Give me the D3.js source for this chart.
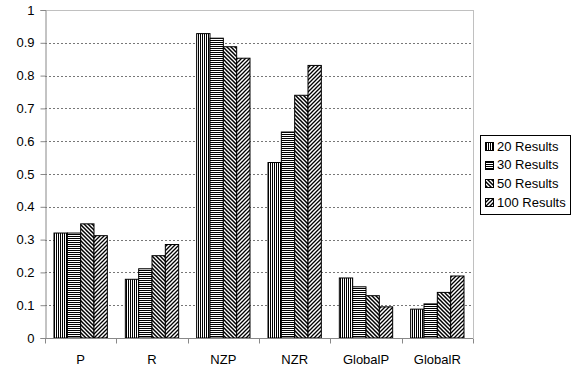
<!DOCTYPE html>
<html><head><meta charset="utf-8">
<script src="https://cdn.jsdelivr.net/npm/d3@7"></script>
<style>body{margin:0;background:#fff}svg{display:block;font-family:"Liberation Sans",Arial,sans-serif}</style>
</head><body><svg id="c" width="574" height="370"></svg>
<script>
const categories = ["P","R","NZP","NZR","GlobalP","GlobalR"];
const seriesNames = ["20 Results","30 Results","50 Results","100 Results"];
const s20  = [0.320, 0.179, 0.928, 0.535, 0.183, 0.088];
const s30  = [0.320, 0.211, 0.914, 0.628, 0.156, 0.104];
const s50  = [0.348, 0.251, 0.888, 0.740, 0.129, 0.139];
const s100 = [0.312, 0.285, 0.853, 0.831, 0.095, 0.189];
const yTicks = [0,0.1,0.2,0.3,0.4,0.5,0.6,0.7,0.8,0.9,1];
const yTickLabels = ["0","0.1","0.2","0.3","0.4","0.5","0.6","0.7","0.8","0.9","1"];
const series = [s20, s30, s50, s100];

const svg = d3.select("#c");
const L = 45, R = 473, T = 10, B = 338;
const defs = svg.append("defs");
const pv = defs.append("pattern").attr("id","p0").attr("patternUnits","userSpaceOnUse").attr("width",2).attr("height",2);
pv.append("rect").attr("width",2).attr("height",2).attr("fill","#fff");
pv.append("rect").attr("x",0).attr("width",1).attr("height",2).attr("fill","#000");
const ph = defs.append("pattern").attr("id","p1").attr("patternUnits","userSpaceOnUse").attr("width",2).attr("height",2);
ph.append("rect").attr("width",2).attr("height",2).attr("fill","#fff");
ph.append("rect").attr("y",0).attr("width",2).attr("height",1).attr("fill","#000");
const pd = defs.append("pattern").attr("id","p2").attr("patternUnits","userSpaceOnUse").attr("width",4).attr("height",4);
pd.append("rect").attr("width",4).attr("height",4).attr("fill","#fff");
pd.append("path").attr("d","M-1,-1 L5,5 M-1,3 L1,5 M3,-1 L5,1").attr("stroke","#000").attr("stroke-width",1.5);
const pu = defs.append("pattern").attr("id","p3").attr("patternUnits","userSpaceOnUse").attr("width",4).attr("height",4);
pu.append("rect").attr("width",4).attr("height",4).attr("fill","#fff");
pu.append("path").attr("d","M-1,5 L5,-1 M-1,1 L1,-1 M3,5 L5,3").attr("stroke","#000").attr("stroke-width",1.3);

const x0 = d3.scaleBand().domain(categories).range([L,R]);
const x1 = d3.scaleBand().domain(d3.range(4)).range([9, x0.bandwidth()-9]);
const y = d3.scaleLinear().domain([0,1]).range([B,T]);

svg.append("g").selectAll("line").data(yTicks.filter(v=>v>0&&v<1)).join("line")
  .attr("x1",L).attr("x2",R).attr("y1",d=>Math.round(y(d))+0.5).attr("y2",d=>Math.round(y(d))+0.5)
  .attr("stroke","#777").attr("stroke-dasharray","2,2");
svg.append("line").attr("x1",L).attr("x2",R+0.5).attr("y1",T+0.5).attr("y2",T+0.5).attr("stroke","#c0c0c0");
svg.append("line").attr("x1",R+0.5).attr("x2",R+0.5).attr("y1",T).attr("y2",B).attr("stroke","#c0c0c0");

const g = svg.append("g");
categories.forEach((c,i)=>{
  series.forEach((s,k)=>{
    g.append("rect").attr("x",x0(c)+x1(k)).attr("width",x1.bandwidth())
     .attr("y",y(s[i])).attr("height",B-y(s[i]))
     .attr("fill",`url(#p${k})`).attr("stroke","#000").attr("stroke-width",1);
  });
});

const yAxis = d3.axisLeft(y).tickValues(yTicks).tickFormat((d,i)=>yTickLabels[i]).tickSize(5).tickPadding(6);
const ya = svg.append("g").attr("transform",`translate(${L+0.5},0)`).call(yAxis);
ya.select(".domain").attr("stroke","#888");
ya.selectAll(".tick line").attr("stroke","#888");
ya.selectAll("text").attr("font-size",13).attr("fill","#000").attr("font-family","Liberation Sans, Arial, sans-serif");

const xa = svg.append("g").attr("transform",`translate(0,${B+0.5})`);
xa.append("line").attr("x1",L).attr("x2",R).attr("stroke","#888");
xa.selectAll(".tk").data(d3.range(categories.length+1)).join("line")
  .attr("x1",i=>Math.round(L+i*x0.step())+0.5).attr("x2",i=>Math.round(L+i*x0.step())+0.5)
  .attr("y1",0).attr("y2",5).attr("stroke","#888");
xa.selectAll("text").data(categories).join("text")
  .attr("x",d=>x0(d)+x0.bandwidth()/2).attr("y",25).attr("text-anchor","middle")
  .attr("font-size",13).text(d=>d);

const lg = svg.append("g");
lg.append("rect").attr("x",480.5).attr("y",135.5).attr("width",90).attr("height",79)
  .attr("fill","#fff").attr("stroke","#000");
seriesNames.forEach((n,k)=>{
  const cy = 146 + k*18.7;
  lg.append("rect").attr("x",485.5).attr("y",Math.round(cy-4)+0.5).attr("width",8).attr("height",8)
    .attr("fill",`url(#p${k})`).attr("stroke","#000");
  lg.append("text").attr("x",497).attr("y",cy+4.5).attr("font-size",13).text(n);
});
</script></body></html>
